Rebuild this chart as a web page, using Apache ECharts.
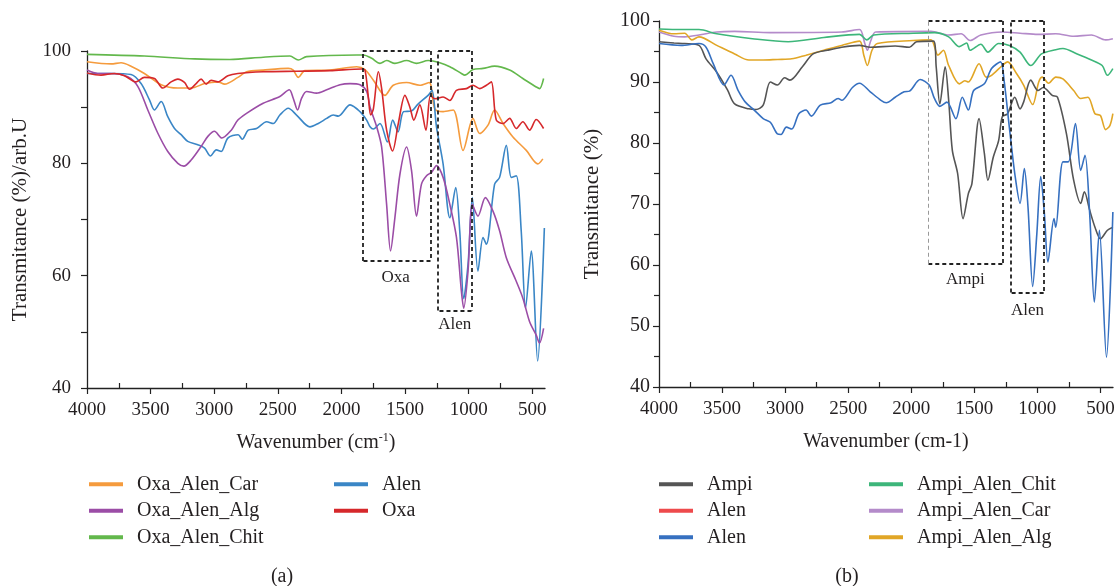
<!DOCTYPE html>
<html><head><meta charset="utf-8">
<script src="https://cdn.jsdelivr.net/npm/echarts@6/dist/echarts.min.js"></script>
<style>html,body{margin:0;padding:0;background:#fff}#c{width:1116px;height:586px}</style>
</head><body><div id="c"></div>
<script>
// ---------- tick labels ----------
const xTicks = [4000, 3500, 3000, 2500, 2000, 1500, 1000, 500];
const xMinorTicks = [3750, 3250, 2750, 2250, 1750, 1250, 750];
const leftYLabels = [40, 60, 80, 100];

// ---------- panel (a) ----------
const oxaAlenCar = [[4000,98.1],[3811,97.7],[3732,97.9],[3654,97.3],[3549,96.0],[3417,94.0],[3286,93.4],[3181,93.4],[3076,94.2],[2971,94.5],[2919,94.1],[2814,95.3],[2746,96.3],[2615,96.6],[2418,96.9],[2379,96.6],[2339,95.3],[2287,96.5],[2090,96.6],[1880,97.2],[1815,96.7],[1749,94.8],[1658,92.1],[1593,93.9],[1488,94.4],[1384,93.9],[1310,94.4],[1266,89.7],[1201,89.2],[1122,89.5],[1044,82.3],[966,88.0],[913,85.3],[848,86.8],[796,89.5],[730,87.1],[652,84.7],[547,82.3],[456,79.9],[417,80.8]];
const oxaAlenAlg = [[4000,96.6],[3916,96.0],[3811,96.0],[3680,95.4],[3601,93.7],[3522,89.5],[3444,85.4],[3365,82.1],[3286,80.0],[3239,79.5],[3181,80.6],[3103,83.0],[3050,84.8],[2998,85.7],[2940,84.5],[2866,85.9],[2814,87.7],[2746,88.9],[2615,90.7],[2484,91.9],[2410,93.1],[2379,91.6],[2345,89.5],[2313,91.6],[2274,92.8],[2195,92.5],[2116,93.1],[2011,94.0],[1932,94.2],[1854,94.0],[1802,92.8],[1775,90.0],[1723,86.5],[1684,82.9],[1645,72.7],[1614,64.4],[1580,70.3],[1540,78.1],[1488,82.9],[1449,78.7],[1410,70.6],[1371,76.3],[1331,77.8],[1292,78.4],[1253,79.6],[1201,77.5],[1148,72.7],[1096,66.8],[1057,57.2],[1039,54.2],[1005,60.8],[971,72.7],[927,70.6],[869,73.9],[809,71.5],[757,68.0],[704,63.2],[626,59.0],[574,56.0],[521,51.8],[469,49.4],[443,48.0],[411,50.6]];
const oxaAlenChit = [[4000,99.4],[3549,99.1],[3155,98.6],[2877,98.5],[2615,98.9],[2405,99.1],[2339,98.4],[2274,99.0],[1880,99.3],[1828,99.3],[1762,98.7],[1697,97.8],[1645,98.3],[1580,97.8],[1488,98.3],[1410,97.8],[1318,98.3],[1227,97.9],[1148,97.2],[1057,96.0],[1031,95.7],[966,96.7],[887,96.9],[796,97.3],[678,96.6],[574,95.1],[469,93.6],[443,93.3],[411,95.1]];
const alenA = [[4000,96.0],[3811,96.0],[3654,95.8],[3575,94.2],[3509,91.3],[3470,89.5],[3417,91.0],[3365,88.3],[3312,86.2],[3260,85.1],[3208,83.9],[3129,83.3],[3076,82.7],[3029,81.3],[2984,82.4],[2945,82.1],[2893,84.5],[2812,85.1],[2780,84.3],[2733,85.9],[2667,86.2],[2588,87.4],[2536,87.1],[2484,88.6],[2418,89.8],[2353,88.6],[2248,86.5],[2182,87.1],[2116,88.0],[2064,88.6],[2025,88.4],[1932,90.4],[1854,89.2],[1802,87.7],[1775,86.5],[1749,86.1],[1697,87.1],[1639,83.8],[1597,87.7],[1555,85.6],[1512,89.2],[1450,89.3],[1400,90.5],[1315,92.2],[1288,93.0],[1253,86.5],[1201,79.9],[1148,70.3],[1102,75.7],[1070,67.9],[1039,55.9],[1005,62.0],[971,73.9],[927,60.8],[887,66.8],[861,65.6],[796,76.3],[757,77.5],[704,83.2],[665,77.5],[626,77.8],[587,68.0],[553,54.2],[508,64.4],[458,44.8],[405,68.5]];
const oxa = [[4000,96.1],[3890,95.7],[3785,96.0],[3706,95.6],[3614,94.5],[3549,95.3],[3470,95.1],[3404,93.4],[3339,94.5],[3286,95.0],[3234,94.4],[3194,93.2],[3142,94.2],[3103,95.0],[3063,94.1],[3024,94.8],[2971,94.5],[2893,95.6],[2814,96.0],[2615,96.3],[2353,96.4],[2090,96.5],[1841,96.8],[1815,96.6],[1789,91.9],[1770,88.6],[1749,89.7],[1710,96.3],[1684,93.3],[1645,85.9],[1598,82.2],[1553,87.1],[1501,92.1],[1462,90.0],[1431,87.7],[1384,90.4],[1336,85.9],[1300,92.1],[1266,91.5],[1201,91.8],[1148,91.2],[1096,93.0],[1018,93.3],[966,93.9],[913,93.3],[861,93.9],[822,94.5],[783,87.7],[730,87.1],[678,88.0],[626,86.2],[574,87.4],[521,85.9],[469,87.8],[411,86.2]];

// ---------- panel (b) ----------
const ampi = [[4000,96.6],[3881,96.4],[3796,96.3],[3683,96.0],[3627,93.8],[3542,91.6],[3457,88.7],[3400,86.4],[3287,85.6],[3230,85.5],[3174,86.2],[3117,90.0],[3061,89.5],[3004,90.7],[2962,90.3],[2863,92.5],[2778,94.6],[2664,95.2],[2551,95.7],[2410,96.0],[2325,95.7],[2127,95.9],[2014,95.7],[1957,96.6],[1824,96.7],[1802,92.5],[1773,86.4],[1731,92.5],[1703,87.0],[1674,78.8],[1632,75.0],[1589,67.6],[1547,71.7],[1519,73.3],[1462,84.0],[1420,78.3],[1392,73.9],[1349,77.7],[1307,80.4],[1278,84.3],[1236,84.8],[1179,87.5],[1137,85.6],[1109,86.7],[1052,90.3],[995,88.6],[953,89.1],[882,87.8],[840,87.5],[769,81.5],[712,73.9],[656,70.1],[627,72.0],[585,69.0],[543,66.2],[500,64.3],[444,65.7],[401,66.2]];
const alenRed = [];
const alenB = [[4000,96.3],[3825,96.0],[3683,96.3],[3627,95.7],[3570,93.0],[3485,89.5],[3429,91.1],[3372,88.6],[3315,86.7],[3245,85.4],[3174,84.0],[3117,83.4],[3061,81.5],[3032,81.4],[2990,82.6],[2947,82.3],[2891,84.8],[2834,85.4],[2792,84.4],[2721,86.2],[2636,86.6],[2580,87.3],[2551,87.0],[2466,89.1],[2410,89.8],[2325,88.4],[2240,87.0],[2198,86.6],[2127,87.5],[2056,88.4],[2014,88.5],[1929,90.4],[1858,89.5],[1816,87.3],[1773,86.0],[1717,86.7],[1646,84.0],[1595,87.5],[1547,85.4],[1505,88.6],[1420,89.7],[1363,92.2],[1292,93.3],[1264,90.3],[1222,82.6],[1179,75.0],[1137,70.1],[1103,75.8],[1074,69.5],[1037,56.5],[1004,65.1],[973,74.5],[944,68.4],[916,60.5],[868,67.6],[854,66.2],[797,76.9],[755,76.9],[698,83.2],[656,75.5],[622,78.0],[585,68.4],[548,53.9],[508,65.7],[452,44.9],[401,68.7]];
const ampiAlenChit = [[4000,98.7],[3825,98.6],[3683,98.6],[3542,97.9],[3259,97.1],[2976,96.6],[2693,97.3],[2410,97.8],[2353,96.9],[2297,97.7],[1985,98.0],[1816,98.1],[1703,97.4],[1618,95.8],[1561,96.4],[1533,95.2],[1448,96.2],[1392,94.9],[1307,96.3],[1222,96.0],[1137,94.9],[1052,92.7],[967,94.6],[854,95.3],[797,95.5],[684,94.6],[571,93.6],[486,92.7],[444,91.1],[401,92.2]];
const ampiAlenCar = [[4000,98.2],[3881,97.5],[3796,97.4],[3683,97.7],[3542,98.2],[3400,98.3],[3117,98.1],[2551,98.2],[2410,98.6],[2368,96.3],[2348,95.2],[2320,96.8],[2282,98.2],[1844,98.3],[1703,97.7],[1604,97.9],[1533,96.8],[1448,97.7],[1278,98.2],[1137,98.0],[995,97.8],[854,97.9],[712,97.5],[571,97.7],[458,96.9],[401,97.1]];
const ampiAlenAlg = [[4000,98.5],[3881,97.9],[3796,98.0],[3740,96.9],[3683,97.4],[3542,96.0],[3400,94.6],[3287,93.6],[3174,93.6],[3061,93.7],[2947,93.8],[2834,94.4],[2693,95.2],[2551,96.0],[2410,96.7],[2376,94.4],[2348,92.7],[2311,95.2],[2268,96.3],[1985,96.8],[1844,96.9],[1788,94.4],[1745,95.2],[1703,92.7],[1618,89.7],[1575,90.2],[1547,90.0],[1462,93.0],[1405,90.8],[1363,91.1],[1278,92.7],[1236,93.3],[1165,91.4],[1109,89.5],[1037,86.3],[989,90.0],[961,90.8],[911,89.8],[854,90.8],[797,90.5],[712,88.6],[656,87.3],[599,87.5],[543,84.8],[500,84.5],[458,82.2],[424,82.9],[401,84.8]];

// ---------- annotation boxes: [xLeft, xRight, yBottom, yTop] and labels [x, y] ----------
const oxaBox = [1833, 1300, 62.6, 100];
const alenBoxA = [1240, 978, 53.8, 100];
const ampiBox = [1863, 1278, 60.2, 100];
const alenBoxB = [1207, 950, 55.5, 100];
const oxaLabel = [1574, 59.6];
const alenLabelA = [1110, 51.3];
const ampiLabel = [1570, 57.6];
const alenLabelB = [1078, 52.5];

const F = '"Liberation Serif","Times New Roman",serif';
const TXT = '#231f20';

function boxSegs(b, thinLeft) {
  const [x1, x2, y1, y2] = b;
  const thick = { type: [4, 3], color: '#222', width: 1.8 };
  const thin = { type: [4, 3], color: '#999', width: 1 };
  return [
    [{ coord: [x1, y2], lineStyle: thick }, { coord: [x2, y2] }],
    [{ coord: [x2, y2], lineStyle: thick }, { coord: [x2, y1] }],
    [{ coord: [x2, y1], lineStyle: thick }, { coord: [x1, y1] }],
    [{ coord: [x1, y1], lineStyle: thinLeft ? thin : thick }, { coord: [x1, y2] }]
  ];
}
function labelPt(text, p) {
  return { coord: p, value: text, label: { show: true, formatter: text, fontFamily: F, fontSize: 17, color: TXT } };
}

function lineSeries(name, data, color, axisIdx, extra) {
  return Object.assign({
    name, type: 'line', data, xAxisIndex: axisIdx, yAxisIndex: axisIdx,
    showSymbol: false, symbol: 'none', smooth: 0.3,
    lineStyle: { color, width: 1.6 }, itemStyle: { color },
    emphasis: { disabled: true }, silent: true
  }, extra || {});
}

const plain = v => String(v);

function xAxisMain(grid, nameText, rich) {
  return {
    type: 'value', gridIndex: grid, min: 400, max: 4000, inverse: true, position: 'bottom',
    axisLine: { show: true, onZero: false, lineStyle: { color: '#222', width: 1.3 } },
    axisTick: { show: true, inside: false, length: 6, customValues: xTicks, lineStyle: { color: '#222', width: 1.2 } },
    axisLabel: { customValues: xTicks, formatter: plain, fontFamily: F, fontSize: 19, color: TXT, margin: 13 },
    splitLine: { show: false },
    name: nameText, nameLocation: 'middle', nameGap: 44,
    nameTextStyle: { fontFamily: F, fontSize: 20, color: TXT, lineHeight: 22, rich: rich }
  };
}
function xAxisMinor(grid) {
  return {
    type: 'value', gridIndex: grid, min: 400, max: 4000, inverse: true, position: 'bottom',
    axisLine: { show: false, onZero: false },
    axisTick: { show: true, inside: true, length: 5, customValues: xMinorTicks, lineStyle: { color: '#222', width: 1.2 } },
    axisLabel: { show: false }, splitLine: { show: false }
  };
}

const supRich = {
  sup: { fontFamily: F, fontSize: 12, color: TXT, verticalAlign: 'top', lineHeight: 12 }
};

const legendText = { fontFamily: F, fontSize: 20, color: TXT, lineHeight: 26.5, padding: [0, 0, 0, 9] };
function legend(left, names) {
  return {
    left, top: 466, orient: 'vertical', icon: 'rect', itemWidth: 34, itemHeight: 4,
    itemGap: 0, selectedMode: false, data: names, textStyle: legendText,
    formatter: n => n.trim()
  };
}

const chart = echarts.init(document.getElementById('c'), null, { renderer: 'canvas' });
chart.setOption({
  animation: false,
  backgroundColor: '#fff',
  grid: [
    { left: 87, width: 458, top: 51, height: 337, outerBoundsMode: 'none', containLabel: false },
    { left: 659, width: 454, top: 21, height: 366, outerBoundsMode: 'none', containLabel: false }
  ],
  xAxis: [
    xAxisMain(0, 'Wavenumber (cm{sup|-1})', supRich),
    xAxisMain(1, 'Wavenumber (cm-1)', supRich),
    xAxisMinor(0),
    xAxisMinor(1)
  ],
  yAxis: [
    {
      type: 'value', gridIndex: 0, min: 40, max: 100, interval: 10,
      axisLine: { show: true, lineStyle: { color: '#222', width: 1.3 } },
      axisTick: { show: true, length: 6, lineStyle: { color: '#222', width: 1.2 } },
      axisLabel: { customValues: leftYLabels, formatter: plain, fontFamily: F, fontSize: 19, color: TXT, margin: 16 },
      splitLine: { show: false },
      name: 'Transmitance (%)/arb.U', nameLocation: 'middle', nameGap: 56, nameRotate: 90,
      nameTextStyle: { fontFamily: F, fontSize: 21, color: TXT }
    },
    {
      type: 'value', gridIndex: 1, min: 40, max: 100, interval: 10,
      axisLine: { show: true, lineStyle: { color: '#222', width: 1.3 } },
      axisTick: { show: true, length: 6, lineStyle: { color: '#222', width: 1.2 } },
      minorTick: { show: true, splitNumber: 2, length: 5, lineStyle: { color: '#222', width: 1.2 } },
      axisLabel: { formatter: plain, fontFamily: F, fontSize: 20, color: TXT, margin: 9 },
      splitLine: { show: false }, minorSplitLine: { show: false },
      name: 'Transmitance (%)', nameLocation: 'middle', nameGap: 56, nameRotate: 90,
      nameTextStyle: { fontFamily: F, fontSize: 21, color: TXT }
    }
  ],
  legend: [
    legend(84, ['Oxa_Alen_Car', 'Oxa_Alen_Alg', 'Oxa_Alen_Chit']),
    legend(329, ['Alen', 'Oxa']),
    legend(654, ['Ampi', 'Alen ', 'Alen  ']),
    legend(864, ['Ampi_Alen_Chit', 'Ampi_Alen_Car', 'Ampi_Alen_Alg'])
  ],
  graphic: [
    { type: 'text', x: 282, y: 577, style: { text: '(a)', fontFamily: F, fontSize: 20, fill: TXT, align: 'center', verticalAlign: 'middle' } },
    { type: 'text', x: 847, y: 577, style: { text: '(b)', fontFamily: F, fontSize: 20, fill: TXT, align: 'center', verticalAlign: 'middle' } }
  ],
  series: [
    lineSeries('Oxa_Alen_Chit', oxaAlenChit, '#63b84c', 0, {
      markLine: { silent: true, symbol: ['none', 'none'], label: { show: false }, emphasis: { disabled: true },
        data: boxSegs(oxaBox, false).concat(boxSegs(alenBoxA, false)) },
      markPoint: { silent: true, symbol: 'circle', symbolSize: 1, itemStyle: { color: 'rgba(0,0,0,0)' },
        data: [labelPt('Oxa', oxaLabel), labelPt('Alen', alenLabelA)] }
    }),
    lineSeries('Oxa_Alen_Car', oxaAlenCar, '#f59b3d', 0),
    lineSeries('Alen', alenA, '#3a86c6', 0),
    lineSeries('Oxa_Alen_Alg', oxaAlenAlg, '#9b4da6', 0),
    lineSeries('Oxa', oxa, '#d6282b', 0),

    lineSeries('Ampi_Alen_Car', ampiAlenCar, '#b48bca', 1, {
      markLine: { silent: true, symbol: ['none', 'none'], label: { show: false }, emphasis: { disabled: true },
        data: boxSegs(ampiBox, true).concat(boxSegs(alenBoxB, false)) },
      markPoint: { silent: true, symbol: 'circle', symbolSize: 1, itemStyle: { color: 'rgba(0,0,0,0)' },
        data: [labelPt('Ampi', ampiLabel), labelPt('Alen', alenLabelB)] }
    }),
    lineSeries('Ampi_Alen_Chit', ampiAlenChit, '#3db67a', 1),
    lineSeries('Ampi_Alen_Alg', ampiAlenAlg, '#e1a626', 1),
    lineSeries('Ampi', ampi, '#555555', 1),
    lineSeries('Alen ', alenRed, '#ee4a4c', 1),
    lineSeries('Alen  ', alenB, '#3670c0', 1)
  ]
});
</script>
</body></html>
